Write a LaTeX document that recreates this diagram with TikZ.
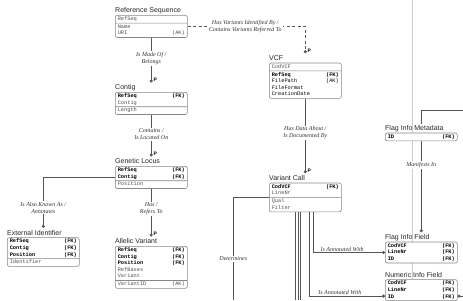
\documentclass[tikz,border=0pt]{standalone}
\usepackage{fontspec}
\setmainfont{Liberation Sans}
\newfontfamily\labfont{Liberation Serif}
\newfontfamily\attfont{Liberation Mono}
\usepackage{tikz}
\usetikzlibrary{shapes.multipart,arrows.meta,positioning,calc,backgrounds}
\definecolor{linegray}{RGB}{85,85,85}
\definecolor{boxgray}{RGB}{135,135,135}
\definecolor{guidegray}{RGB}{205,205,205}
\definecolor{attgray}{RGB}{80,80,80}
\newcommand\fk[1]{\strut\textbf{\color{black}#1\hfill(FK)}}
\newcommand\ak[1]{\strut#1\hfill(AK)}
\newcommand\at[1]{\strut#1}
\tikzset{
  entity/.style={rectangle split,rectangle split parts=2,draw=boxgray,line width=0.6pt,
              fill=white,rounded corners=2pt,text width=67pt,inner xsep=2.5pt,inner ysep=0.3pt,
              align=left,text=attgray,font=\attfont\fontsize{5.3}{6.6}\selectfont},
  keybox/.style={entity,rectangle split parts=1},
  etitle/.style={anchor=base west,inner xsep=0pt,inner ysep=1pt,text=black!85,
              font=\fontsize{7}{8}\selectfont},
  rel/.style={fill=white,align=center,inner sep=1pt,text=black!80,
              font=\labfont\itshape\fontsize{6}{7}\selectfont},
  conn/.style={draw=linegray,line width=0.8pt},
  ident/.style={conn,-{Circle[length=3pt]}},
  nonident/.style={ident,dash pattern=on 3pt off 2.5pt},
  plabel/.style={anchor=south west,inner sep=0.5pt,xshift=1.5pt,font=\bfseries\fontsize{5}{6}\selectfont},
  guide/.style={draw=guidegray,line width=0.5pt},
}

\begin{document}
\begin{tikzpicture}[x=1pt,y=1pt]
  \clip (0,0) rectangle (463,-300);

  % entities
  \node[entity,anchor=north west] (refseq) at (115,-15)
    {\at{RefSeq}\nodepart{two}\at{Name}\\\ak{URI}};
  \node[entity,anchor=north west] (contig) at (115,-92)
    {\fk{RefSeq}\\\at{Contig}\nodepart{two}\at{Length}};
  \node[entity,anchor=north west] (locus) at (115,-166)
    {\fk{RefSeq}\\\fk{Contig}\nodepart{two}\at{Position}};
  \node[entity,anchor=north west] (extid) at (7,-237.3)
    {\fk{RefSeq}\\\fk{Contig}\\\fk{Position}\nodepart{two}\at{Identifier}};
  \node[entity,anchor=north west] (allele) at (115,-246)
    {\fk{RefSeq}\\\fk{Contig}\\\fk{Position}\\\at{RefBases}\\\at{Variant}\nodepart{two}\ak{VariantID}};
  \node[entity,anchor=north west] (vcf) at (269,-62.7)
    {\at{CodVCF}\nodepart{two}\fk{RefSeq}\\\ak{FilePath}\\\at{FileFormat}\\\at{CreationDate}};
  \node[entity,anchor=north west] (vcall) at (269,-182.7)
    {\fk{CodVCF}\\\at{LineNr}\nodepart{two}\at{Qual}\\\at{Filter}};
  \node[keybox,anchor=north west] (flagmeta) at (385,-132.7) {\fk{ID}};
  \node[keybox,anchor=north west] (flagfield) at (385,-241.7)
    {\fk{CodVCF}\\\fk{LineNr}\\\fk{ID}};
  \node[keybox,anchor=north west] (numfield) at (385,-279.3)
    {\fk{CodVCF}\\\fk{LineNr}\\\fk{ID}};

  % titles
  \node[etitle] (refseq-t) at ($(refseq.north west)+(0,2.2)$) {Reference Sequence};
  \node[etitle] (contig-t) at ($(contig.north west)+(0,2.2)$) {Contig};
  \node[etitle] (locus-t) at ($(locus.north west)+(0,2.2)$) {Genetic Locus};
  \node[etitle] (extid-t) at ($(extid.north west)+(0,2.2)$) {External Identifier};
  \node[etitle] (allele-t) at ($(allele.north west)+(0,2.2)$) {Allelic Variant};
  \node[etitle] (vcf-t) at ($(vcf.north west)+(0,2.2)$) {VCF};
  \node[etitle] (vcall-t) at ($(vcall.north west)+(0,2.2)$) {Variant Call};
  \node[etitle] (flagmeta-t) at ($(flagmeta.north west)+(0,2.2)$) {Flag Info Metadata};
  \node[etitle] (flagfield-t) at ($(flagfield.north west)+(0,2.2)$) {Flag Info Field};
  \node[etitle] (numfield-t) at ($(numfield.north west)+(0,2.2)$) {Numeric Info Field};

  % loose ends
  \coordinate (gtop) at (412,0);
  \coordinate (fm-in) at (463,-110.7);
  \coordinate (nf-in) at (463,-296.1);
  \coordinate (out1) at (295.7,-300);
  \coordinate (out2) at (298.3,-300);
  \coordinate (out3) at (300.7,-300);
  \coordinate (det-out) at (233.3,-300);

  \begin{scope}[on background layer]
    \draw[guide] (gtop) -- (gtop |- numfield.north);
  \end{scope}

  % relationships
  \draw[ident] (refseq.south) -- node[rel,pos=0.46]{Is Made Of /\\Belongs}
    ($(contig.north)+(0,9.5)$) node[plabel]{P};
  \draw[ident] (contig.south) -- node[rel,pos=0.47]{Contains /\\Is Located On}
    ($(locus.north)+(0,9.5)$) node[plabel]{P};
  \draw[ident] (locus.south) -- node[rel,pos=0.42]{Has /\\Refers To}
    ($(allele.north)+(0,9.5)$) node[plabel]{P};
  \draw[ident] (locus.west) -| node[rel,pos=0.8]{Is Also Known As /\\Annotates}
    ($(extid.north)+(0,9.5)$);
  \draw[nonident] (refseq.east) -| node[rel,pos=0.245]{Has Variants Identified By /\\Contains Variants Referred To}
    ($(vcf.north)+(0,9.5)$) node[plabel]{P};
  \draw[ident] (vcf.south) -- node[rel,pos=0.46]{Has Data About /\\Is Documented By}
    ($(vcall.north)+(0,9.5)$) node[plabel]{P};
  \draw[ident] ($(vcall.south)+(8.3,0)$) |- node[rel,fill=none,above,pos=0.7]{Is Annotated With}
    (flagfield.west);
  \draw[ident] ($(vcall.south)+(4.5,0)$) |- node[rel,fill=none,above,pos=0.7]{Is Annotated With}
    ($(numfield.north west)+(0,-16.8)$);
  \draw[conn] (vcall.south -| out1) -- (out1);
  \draw[conn] (vcall.south -| out2) -- (out2);
  \draw[conn] (vcall.south -| out3) -- (out3);
  \draw[conn] (vcall.west) -| node[rel,pos=0.8]{Determines} (det-out);
  \draw[conn] (fm-in) -| (flagmeta-t.north -| flagmeta.north);
  \draw[ident] (flagmeta.south) -- node[rel,pos=0.26]{Manifests In}
    ($(flagfield.north)+(0,9.5)$);
  \draw[ident] (nf-in) -- (nf-in -| numfield.east);
\end{tikzpicture}
\end{document}
